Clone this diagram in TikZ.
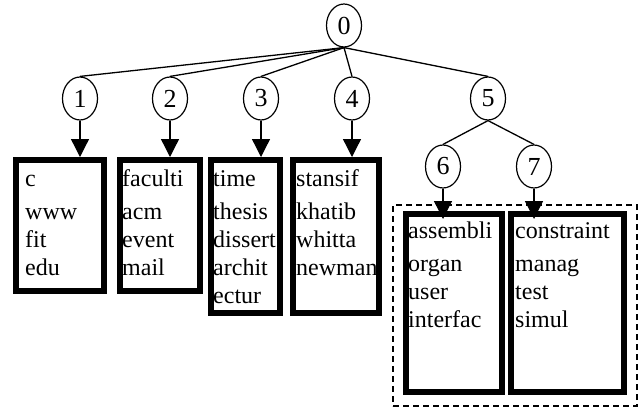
\documentclass[tikz,border=0pt]{standalone}
\usepackage{fontspec}
\setmainfont{Liberation Serif}
\usetikzlibrary{arrows.meta,shapes.geometric,calc}
\begin{document}
\begin{tikzpicture}[x=1pt,y=-1pt,
  vtx/.style={ellipse, draw, line width=1.2pt, minimum width=35pt, minimum height=43pt, inner sep=0pt, font=\fontsize{26}{26}\selectfont},
  edge/.style={line width=1.3pt},
  arr/.style={line width=1.3pt, -{Triangle[length=18pt,width=18pt]}},
  box/.style={draw, line width=6pt, inner sep=0pt},
  words/.style={anchor=base west, align=left, inner sep=0pt, font=\fontsize{24}{28}\selectfont},
  grp/.style={draw, dash pattern=on 6pt off 4pt, line width=1.2pt, inner sep=0pt}]
\useasboundingbox (0,0) rectangle (642,408);
% group frame
\node[grp, minimum width=244pt, minimum height=201pt] (g) at (515,305.5) {};
% tree nodes
\node[vtx] (n0) at (344,25.5) {0};
\node[vtx] (n1) at (80,98.5) {1};
\node[vtx] (n2) at (170,98.5) {2};
\node[vtx] (n3) at (261,98.5) {3};
\node[vtx] (n4) at (352,98.5) {4};
\node[vtx] (n5) at (488,98.5) {5};
\node[vtx] (n6) at (443,166.5) {6};
\node[vtx] (n7) at (534,166.5) {7};
% boxes
\node[box, minimum width=88pt, minimum height=131pt] (b1) at (60,225.5) {};
\node[box, minimum width=80pt, minimum height=131pt] (b2) at (160,225.5) {};
\node[box, minimum width=69pt, minimum height=153pt] (b3) at (245.5,236.5) {};
\node[box, minimum width=86pt, minimum height=153pt] (b4) at (336,236.5) {};
\node[box, minimum width=96pt, minimum height=178pt] (b6) at (454,303) {};
\node[box, minimum width=113pt, minimum height=178pt] (b7) at (567.5,303) {};
% texts (anchored at the baseline of their last line)
\node[words] (t1) at (25,275) {c\\[5pt]www\\fit\\edu};
\node[words] (t2) at (122,275) {faculti\\[5pt]acm\\event\\mail};
\node[words] (t3) at (213,303) {time\\[5pt]thesis\\dissert\\archit\\ectur};
\node[words] (t4) at (296,275) {stansif\\[5pt]khatib\\whitta\\newman};
\node[words] (t6) at (408,327) {assembli\\[5pt]organ\\user\\interfac};
\node[words] (t7) at (515,327) {constraint\\[5pt]manag\\test\\simul};
% connectors
\foreach \k in {1,...,5} \draw[edge] (n0.south) -- (n\k.north);
\draw[edge] (n5.south) -- (n6.north);
\draw[edge] (n5.south) -- (n7.north);
\draw[arr] (n1.south) -- (n1.south |- b1.north);
\draw[arr] (n2.south) -- (n2.south |- b2.north);
\draw[arr] (n3.south) -- (n3.south |- b3.north);
\draw[arr] (n4.south) -- (n4.south |- b4.north);
\draw[arr] (n6.south) -- ($(n6.south |- b6.north)+(0,8)$);
\draw[arr] (n7.south) -- ($(n7.south |- b7.north)+(0,8)$);
\end{tikzpicture}
\end{document}
